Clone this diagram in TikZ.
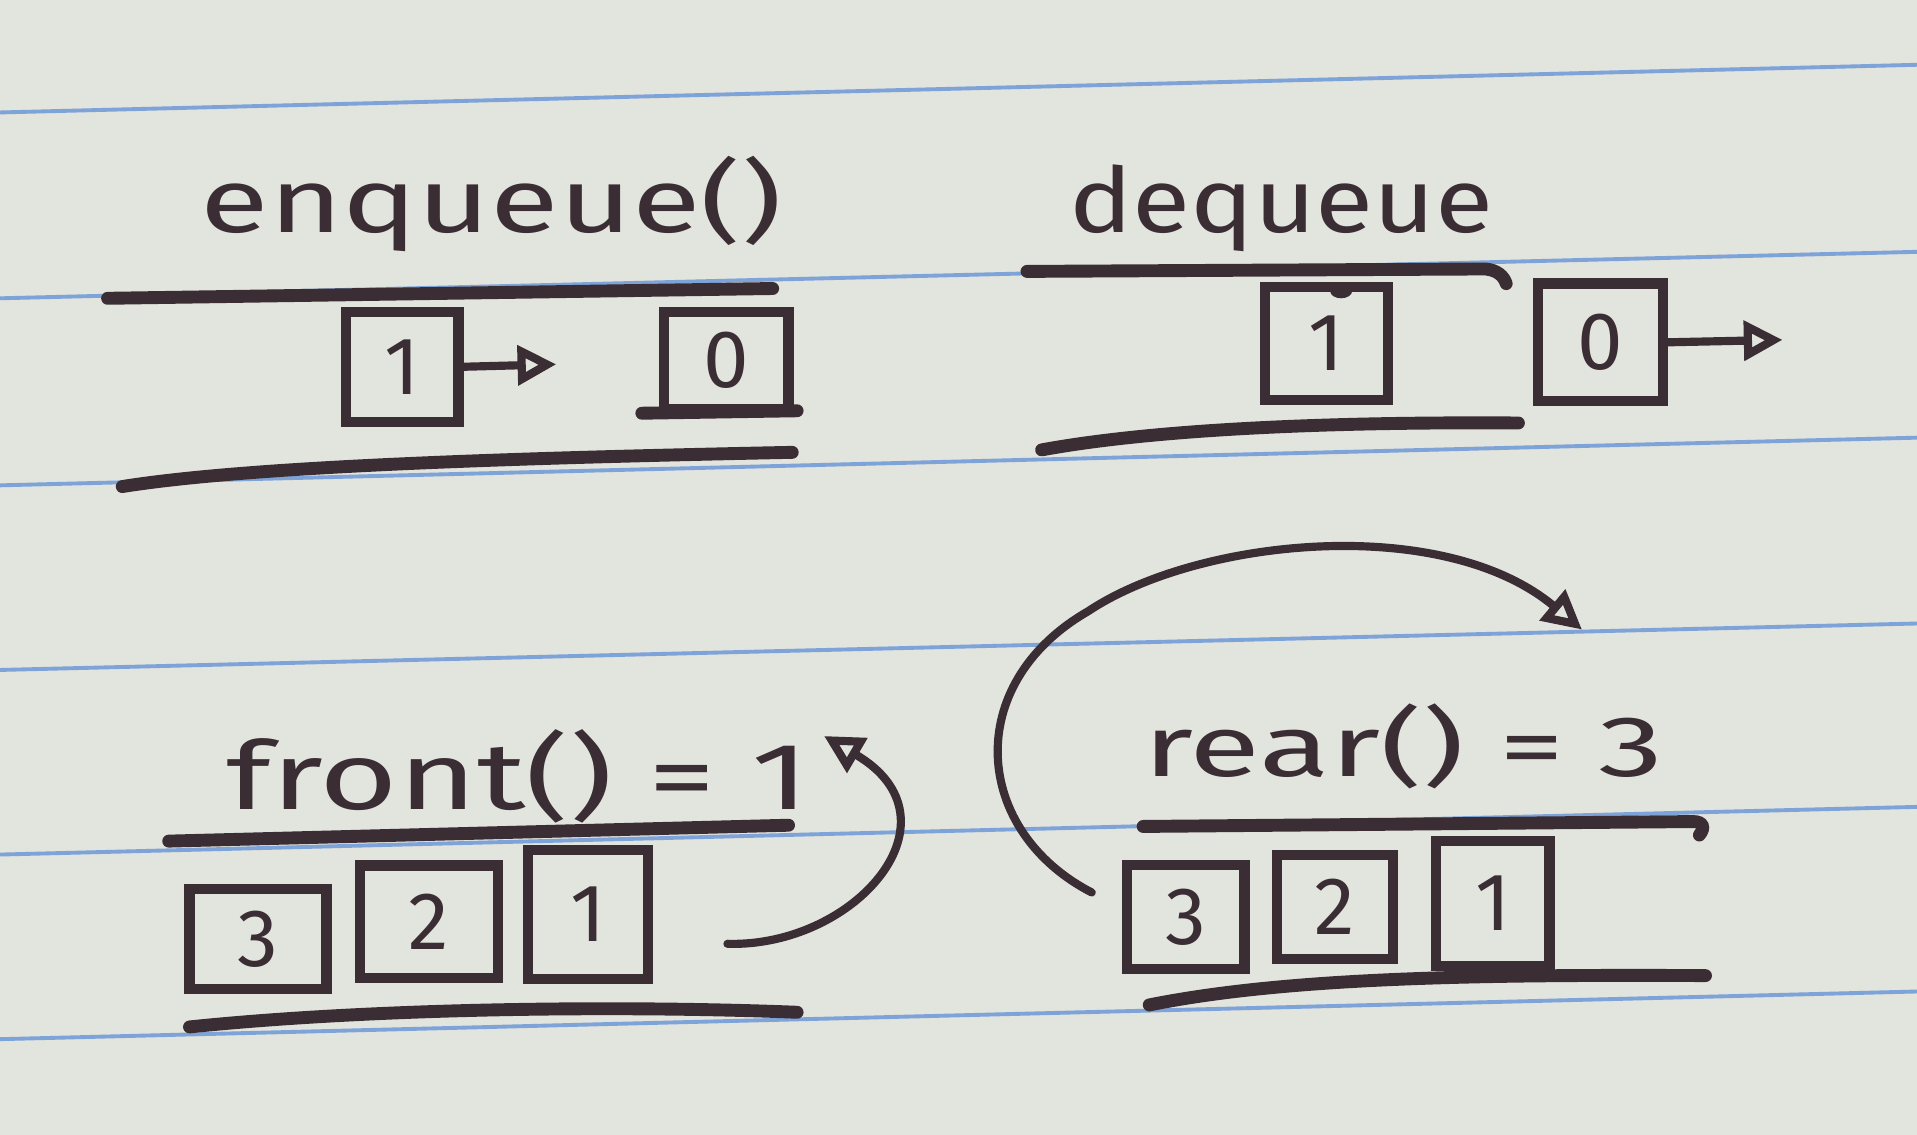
\documentclass[tikz,border=0pt]{standalone}
\usepackage{fontspec}
\setmainfont{Fira Sans}
\usepackage{graphicx}
\definecolor{paper}{HTML}{E2E4DE}
\definecolor{ruling}{HTML}{7DA3D8}
\definecolor{ink}{HTML}{3A2D34}
\usetikzlibrary{arrows.meta, positioning}

\begin{document}
\begin{tikzpicture}[
        x=0.01cm, y=-0.01cm,
        font=\fontsize{21}{25}\selectfont,
        pen/.style={draw=ink, line width=1.9pt, line cap=round, line join=round},
        bar/.style={draw=ink, line width=3pt, line cap=round},
        ruleline/.style={draw=ruling, line width=0.9pt},
        cell/.style={
            rectangle,
            draw=ink, line width=2.4pt,
            inner sep=0pt, text=ink,
            font=\fontsize{19}{21}\selectfont
        },
        title/.style={text=ink, inner sep=0pt, anchor=base},
        pointer/.style={pen, -{Triangle[open, length=9pt, width=9pt]}}
    ]

    % Paper
    \useasboundingbox (0,0) rectangle (1568,928);
    \fill[paper] (0,0) rectangle (1568,928);
    \foreach \yl/\yr in {92/53, 244/206, 397/358, 548/510, 699/660, 850/811} {
        \draw[ruleline] (0,\yl) -- (1568,\yr);
    }

    % enqueue()
    \node[title] (enqlbl) at (402,190) {\resizebox{4.75cm}{\height}{enqueue()}};
    \draw[bar] (88,244) -- (632,236);
    \draw[bar] (100,398) .. controls (200,382) and (400,375) .. (648,370);
    \node[cell, minimum width=0.92cm, minimum height=0.9cm] (e1) at (329,300) {1};
    \node[cell, minimum width=1.02cm, minimum height=0.8cm] (e0) at (594,295) {0};
    \draw[bar] (525,338) -- (652,336);
    \coordinate (enqtip) at (455,298);
    \draw[pointer] (e1.east) -- (enqtip);

    % dequeue
    \node[title] (deqlbl) at (1048,190) {\resizebox{3.47cm}{\height}{dequeue}};
    \draw[bar] (840,222) -- (1215,220) .. controls (1225,221) and (1230,226) .. (1232,232);
    \draw[bar] (852,368) .. controls (950,350) and (1100,345) .. (1242,346);
    \node[cell, minimum width=1cm, minimum height=0.92cm] (d1) at (1085,281) {1};
    \fill[ink] (1097,238) ellipse (9 and 6);
    \node[cell, minimum width=1.02cm, minimum height=0.96cm] (d0) at (1309,280) {0};
    \coordinate (deqtip) at (1458,278);
    \draw[pointer] (d0.east) -- (deqtip);

    % front() = 1
    \node[title, font=\fontsize{22}{26}\selectfont] (frontlbl) at (424,662) {\resizebox{4.77cm}{\height}{front() = 1}};
    \draw[bar] (138,688) -- (645,675);
    \draw[bar] (155,840) .. controls (300,825) and (500,822) .. (652,828);
    \node[cell, minimum width=1.12cm, minimum height=0.82cm] (f3) at (211,768) {3};
    \node[cell, minimum width=1.13cm, minimum height=0.92cm] (f2) at (351,754) {2};
    \node[cell, minimum width=0.98cm, minimum height=1.05cm] (f1) at (481,748) {1};
    \coordinate (fstart) at (595,772);
    \coordinate (ftip) at (674,602);
    \draw[pointer] (fstart) .. controls (700,775) and (790,670) .. (ftip);

    % rear() = 3
    \node[title, font=\fontsize{20}{24}\selectfont] (rearlbl) at (1148,635) {\resizebox{4.25cm}{\height}{rear() = 3}};
    \draw[bar] (935,676) -- (1385,672) .. controls (1393,672) and (1395,677) .. (1390,683);
    \draw[bar] (940,822) .. controls (1050,800) and (1200,797) .. (1395,798);
    \node[cell, minimum width=0.96cm, minimum height=0.85cm] (r3) at (970,750) {3};
    \node[cell, minimum width=0.95cm, minimum height=0.85cm] (r2) at (1092,742) {2};
    \node[cell, minimum width=0.93cm, minimum height=1.02cm] (r1) at (1221,739) {1};
    \coordinate (rstart) at (893,730);
    \coordinate (rtip) at (1294,515);
    \draw[pointer] (rstart) .. controls (796,680) and (786,560) .. (890,500)
        .. controls (980,440) and (1180,420) .. (rtip);

\end{tikzpicture}
\end{document}
